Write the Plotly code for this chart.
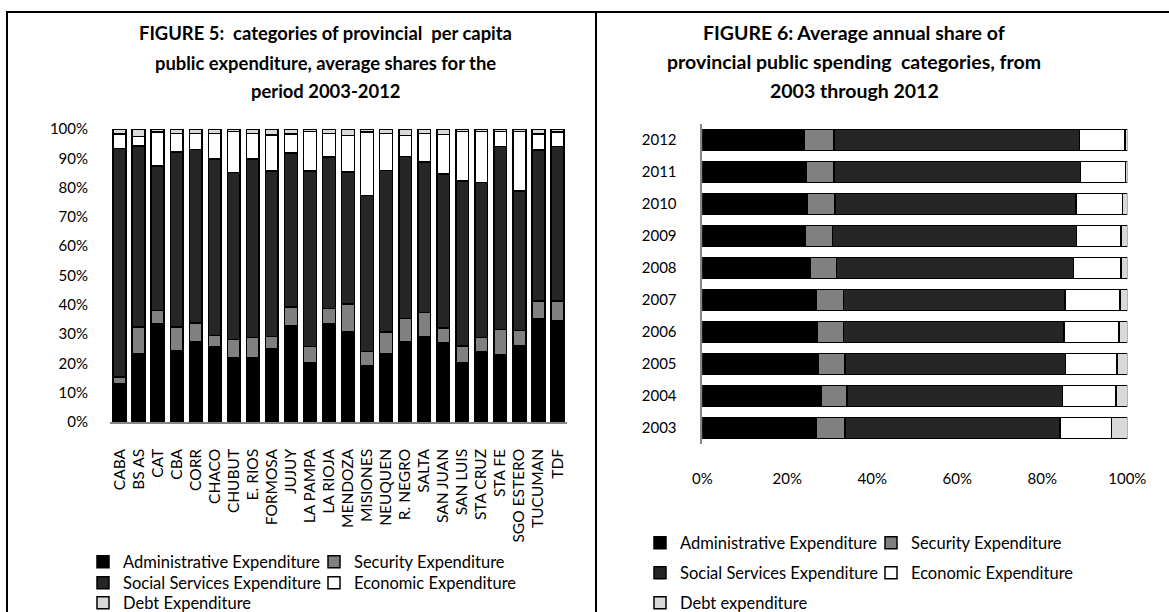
import plotly.graph_objects as go

# ---------------- DATA ----------------
provinces = ["CABA", "BS AS", "CAT", "CBA", "CORR", "CHACO", "CHUBUT", "E. RIOS",
             "FORMOSA", "JUJUY", "LA PAMPA", "LA RIOJA", "MENDOZA", "MISIONES",
             "NEUQUEN", "R. NEGRO", "SALTA", "SAN JUAN", "SAN LUIS", "STA CRUZ",
             "STA FE", "SGO ESTERO", "TUCUMAN", "TDF"]
prov_admin = [13.0, 23.3, 33.6, 24.4, 27.5, 25.6, 22.1, 21.8, 25.0, 32.8, 20.3, 33.6,
              30.7, 19.1, 23.3, 27.5, 29.0, 27.1, 20.2, 23.9, 22.9, 25.9, 35.3, 34.7]
prov_security = [2.3, 9.1, 4.5, 8.0, 6.3, 4.0, 6.1, 7.1, 4.2, 6.5, 5.5, 5.1,
                 9.5, 5.0, 7.4, 7.8, 8.3, 5.0, 5.7, 4.9, 8.6, 5.4, 6.0, 6.6]
prov_social = [78.0, 61.8, 49.2, 59.7, 59.2, 60.2, 57.0, 60.9, 56.5, 52.5, 59.8, 51.7,
               45.1, 53.2, 55.1, 55.3, 51.4, 52.5, 56.4, 52.9, 62.6, 47.6, 51.6, 52.8]
prov_economic = [5.0, 3.2, 11.6, 6.4, 5.5, 8.7, 13.9, 8.7, 12.3, 6.5, 13.5, 8.1,
                 12.4, 21.6, 12.7, 7.1, 9.8, 13.6, 16.8, 17.4, 5.0, 20.2, 5.4, 4.8]
prov_debt = [1.7, 2.6, 1.1, 1.5, 1.5, 1.5, 0.9, 1.5, 2.0, 1.7, 0.9, 1.5,
             2.3, 1.1, 1.5, 2.3, 1.5, 1.8, 0.9, 0.9, 0.9, 0.9, 1.7, 1.1]

years = ["2003", "2004", "2005", "2006", "2007", "2008", "2009", "2010", "2011", "2012"]
yr_admin = [26.8, 27.9, 27.3, 27.1, 26.9, 25.5, 24.2, 24.7, 24.4, 23.9]
yr_security = [6.8, 6.2, 6.3, 6.1, 6.3, 6.1, 6.4, 6.5, 6.6, 7.1]
yr_social = [50.6, 50.7, 51.9, 51.9, 52.1, 55.7, 57.5, 56.7, 58.0, 57.7]
yr_economic = [12.1, 12.5, 12.1, 12.9, 13.0, 11.2, 10.4, 11.0, 10.6, 10.8]
yr_debt = [3.7, 2.7, 2.4, 2.0, 1.7, 1.5, 1.5, 1.1, 0.4, 0.5]

left_ticks = [0, 10, 20, 30, 40, 50, 60, 70, 80, 90, 100]
right_ticks = [0, 20, 40, 60, 80, 100]

left_names = ["Administrative Expenditure", "Security Expenditure",
              "Social Services Expenditure", "Economic Expenditure", "Debt Expenditure"]
right_names = ["Administrative Expenditure", "Security Expenditure",
               "Social Services Expenditure", "Economic Expenditure", "Debt expenditure"]

# ---------------- STYLE ----------------
W, H = 1169, 612
FONT = "Lato"
colors = ["#000000", "#808080", "#262626", "#ffffff", "#d9d9d9"]


def px(x):
    return x / W


def py(y):
    return 1 - y / H


fig = go.Figure()

left_series = [prov_admin, prov_security, prov_social, prov_economic, prov_debt]
left_legends = ["legend", "legend", "legend2", "legend2", "legend3"]
for vals, name, col, lg in zip(left_series, left_names, colors, left_legends):
    fig.add_trace(go.Bar(
        x=provinces, y=vals, name=name, xaxis="x", yaxis="y", legend=lg,
        marker=dict(color=col, line=dict(color="#000000", width=1.5)),
        hoverinfo="x+y+name"))

right_series = [yr_admin, yr_security, yr_social, yr_economic, yr_debt]
right_legends = ["legend4", "legend4", "legend5", "legend5", "legend6"]
for vals, name, col, lg in zip(right_series, right_names, colors, right_legends):
    fig.add_trace(go.Bar(
        x=vals, y=years, name=name, orientation="h", xaxis="x2", yaxis="y2", legend=lg,
        marker=dict(color=col, line=dict(color="#000000", width=1.5)),
        hoverinfo="x+y+name"))

tickfont = dict(family=FONT, size=15, color="#000000")
catfont = dict(family=FONT, size=15.5, color="#000000")
legfont = dict(family=FONT, size=16.5, color="#000000")


def leg(x, y, ew):
    return dict(orientation="h", x=x, xanchor="left", y=y, yanchor="middle",
                font=legfont, entrywidth=ew, entrywidthmode="pixels",
                bgcolor="rgba(0,0,0,0)", borderwidth=0, traceorder="normal",
                itemclick=False, itemdoubleclick=False)


fig.update_layout(
    width=W, height=H,
    margin=dict(l=0, r=0, t=0, b=0, autoexpand=False),
    paper_bgcolor="#ffffff", plot_bgcolor="#ffffff",
    barmode="stack", bargap=0.33,
    font=dict(family=FONT, color="#000000"),
    xaxis=dict(domain=[px(110), px(567)], anchor="y", type="category",
               showline=True, linecolor="#868686", linewidth=1.5,
               ticks="", tickangle=-90, tickfont=catfont, ticklabelstandoff=19,
               showgrid=False, zeroline=False, fixedrange=True, automargin=False),
    yaxis=dict(domain=[py(422), py(129)], anchor="x", range=[0, 100],
               tickvals=left_ticks, ticktext=[f"{v}%" for v in left_ticks],
               tickfont=tickfont, ticks="", ticklabelstandoff=21,
               showline=False, showgrid=False, zeroline=False, fixedrange=True,
               automargin=False),
    xaxis2=dict(domain=[px(702.3), px(1127.3)], anchor="y2", range=[0, 100],
                tickvals=right_ticks, ticktext=[f"{v}%" for v in right_ticks],
                tickfont=tickfont, ticks="", ticklabelstandoff=24,
                showline=False, showgrid=False, zeroline=False, fixedrange=True,
                automargin=False),
    yaxis2=dict(domain=[py(444), py(124)], anchor="x2", type="category",
                showline=True, linecolor="#868686", linewidth=1.5,
                tickfont=tickfont, ticks="", ticklabelstandoff=21,
                showgrid=False, zeroline=False, fixedrange=True, automargin=False),
    legend=leg(px(83), py(562), 186),
    legend2=leg(px(83), py(583), 186),
    legend3=leg(px(83), py(603), 186),
    legend4=leg(px(640), py(543), 186),
    legend5=leg(px(640), py(573), 186),
    legend6=leg(px(640), py(603), 186),
    showlegend=True,
)

# panel frames
fig.add_shape(type="rect", xref="paper", yref="paper",
              x0=px(7), x1=px(596), y0=-0.05, y1=py(12),
              line=dict(color="#000000", width=2), fillcolor="rgba(0,0,0,0)", layer="below")
fig.add_shape(type="rect", xref="paper", yref="paper",
              x0=px(596), x1=1.05, y0=-0.05, y1=py(12),
              line=dict(color="#000000", width=2), fillcolor="rgba(0,0,0,0)", layer="below")

left_title = ["<b>FIGURE 5:  categories of provincial  per capita</b>",
              "<b>public expenditure, average shares for the</b>",
              "<b>period 2003-2012</b>"]
right_title = ["<b>FIGURE 6: Average annual share of</b>",
               "<b>provincial public spending  categories, from</b>",
               "<b>2003 through 2012</b>"]
for txt, yy in zip(left_title, [33, 63, 91]):
    fig.add_annotation(text=txt, x=px(325), y=py(yy), xref="paper", yref="paper",
                       showarrow=False, xanchor="center", yanchor="middle",
                       font=dict(family=FONT, size=18.4, color="#000000"))
for txt, yy in zip(right_title, [32, 62, 90]):
    fig.add_annotation(text=txt, x=px(854), y=py(yy), xref="paper", yref="paper",
                       showarrow=False, xanchor="center", yanchor="middle",
                       font=dict(family=FONT, size=19.5, color="#000000"))

fig.write_html("out.html", config={"displayModeBar": False})
